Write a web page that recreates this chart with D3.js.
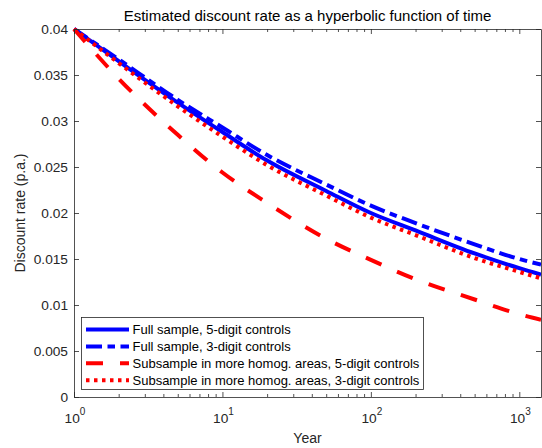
<!DOCTYPE html>
<html>
<head>
<meta charset="utf-8">
<script src="https://cdn.jsdelivr.net/npm/d3@7"></script>
<style>
  html, body { margin: 0; padding: 0; background: #fff; }
  svg { display: block; font-family: "Liberation Sans", Arial, Helvetica, sans-serif; }
</style>
</head>
<body>
<svg id="chart" width="542" height="448"></svg>
<script>
// ---- data ----
const years = [1, 2, 5, 10, 20, 50, 100, 200, 500, 1000, 1400];
const fullSample5 = [0.0400, 0.0365, 0.0320, 0.0288, 0.0257, 0.0224, 0.0200, 0.0181, 0.0156, 0.0140, 0.0133];
const fullSample3 = [0.0400, 0.0367, 0.0323, 0.0293, 0.0263, 0.0231, 0.0208, 0.0189, 0.0166, 0.0150, 0.0144];
const subSample5  = [0.0400, 0.0346, 0.0285, 0.0244, 0.0211, 0.0172, 0.0149, 0.0128, 0.0106, 0.0090, 0.0084];
const subSample3  = [0.0400, 0.0363, 0.0316, 0.0283, 0.0252, 0.0219, 0.0195, 0.0176, 0.0151, 0.0136, 0.0129];
const seriesNames = [
  "Full sample, 5-digit controls",
  "Full sample, 3-digit controls",
  "Subsample in more homog. areas, 5-digit controls",
  "Subsample in more homog. areas, 3-digit controls"
];
const yTickValues = [0, 0.005, 0.01, 0.015, 0.02, 0.025, 0.03, 0.035, 0.04];
const yTickLabels = ["0", "0.005", "0.01", "0.015", "0.02", "0.025", "0.03", "0.035", "0.04"];
const xMajorTicks = [1, 10, 100, 1000];
const xMajorExp = ["0", "1", "2", "3"];
const titleText = "Estimated discount rate as a hyperbolic function of time";
const xLabel = "Year";
const yLabel = "Discount rate (p.a.)";

// ---- layout ----
const L = 74, R = 541, T = 29, B = 397;
const svg = d3.select("#chart");
const x = d3.scaleLog().domain([1, 1400]).range([L, R]);
const y = d3.scaleLinear().domain([0, 0.04]).range([B, T]);
const axisColor = "#262626";

const xMinor = [];
for (let d = 1; d <= 1000; d *= 10) for (let k = 2; k <= 9; k++) { if (d * k <= 1400) xMinor.push(d * k); }

// ---- series ----
const styles = [
  { data: fullSample5, color: "#0000ff", dash: null },
  { data: fullSample3, color: "#0000ff", dash: "16,5.5,7.5,5.5" },
  { data: subSample5,  color: "#ff0000", dash: "17,17" },
  { data: subSample3,  color: "#ff0000", dash: "3.5,4.5" }
];

const line = d3.line().x(d => x(d[0])).y(d => y(d[1])).curve(d3.curveMonotoneX);

svg.append("defs").append("clipPath").attr("id", "clip")
  .append("rect").attr("x", L - 2).attr("y", T - 3).attr("width", R - L + 2).attr("height", B - T + 3);

const gLines = svg.append("g").attr("clip-path", "url(#clip)");
styles.forEach(s => {
  gLines.append("path")
    .datum(years.map((t, i) => [t, s.data[i]]))
    .attr("d", line)
    .attr("fill", "none")
    .attr("stroke", s.color)
    .attr("stroke-width", 4)
    .attr("stroke-dasharray", s.dash)
    .attr("stroke-linecap", "butt");
});

// ---- axes ----
function styleAxis(g) {
  g.selectAll("path.domain").attr("stroke", axisColor).attr("stroke-width", 0.8);
  g.selectAll(".tick line").attr("stroke", axisColor).attr("stroke-width", 0.8);
  g.selectAll("text").attr("fill", axisColor).style("font-size", "13.7px")
    .style("font-family", "'Liberation Sans', Arial, sans-serif");
}

// bottom
svg.append("g").attr("transform", `translate(0,${B})`)
  .call(d3.axisBottom(x).tickValues(xMajorTicks).tickSizeInner(-5).tickSizeOuter(0).tickFormat(""))
  .call(styleAxis);
svg.append("g").attr("transform", `translate(0,${B})`)
  .call(d3.axisBottom(x).tickValues(xMinor).tickSizeInner(-3).tickSizeOuter(0).tickFormat(""))
  .call(g => g.select("path.domain").remove())
  .call(styleAxis);
// top
svg.append("g").attr("transform", `translate(0,${T})`)
  .call(d3.axisTop(x).tickValues(xMajorTicks).tickSizeInner(-5).tickSizeOuter(0).tickFormat(""))
  .call(styleAxis);
svg.append("g").attr("transform", `translate(0,${T})`)
  .call(d3.axisTop(x).tickValues(xMinor).tickSizeInner(-3).tickSizeOuter(0).tickFormat(""))
  .call(g => g.select("path.domain").remove())
  .call(styleAxis);
// left
svg.append("g").attr("transform", `translate(${L},0)`)
  .call(d3.axisLeft(y).tickValues(yTickValues).tickSizeInner(-5).tickSizeOuter(0).tickPadding(6)
    .tickFormat((d, i) => yTickLabels[i]))
  .call(styleAxis);
// right
svg.append("g").attr("transform", `translate(${R},0)`)
  .call(d3.axisRight(y).tickValues(yTickValues).tickSizeInner(-5).tickSizeOuter(0).tickFormat(""))
  .call(styleAxis);

// x tick labels with superscripts
const xl = svg.append("g").attr("fill", axisColor).style("font-size", "13.7px");
xMajorTicks.forEach((t, i) => {
  const txt = xl.append("text").attr("x", x(t) + 1).attr("y", 423).attr("text-anchor", "middle");
  txt.append("tspan").text("10");
  txt.append("tspan").attr("dy", -8).style("font-size", "10px").text(xMajorExp[i]);
});

// labels
svg.append("text").attr("x", (L + R) / 2).attr("y", 20.5).attr("text-anchor", "middle")
  .attr("fill", "#000").style("font-size", "15px").text(titleText);
svg.append("text").attr("x", (L + R) / 2).attr("y", 443).attr("text-anchor", "middle")
  .attr("fill", axisColor).style("font-size", "14px").text(xLabel);
svg.append("text").attr("transform", `translate(25,${(T + B) / 2}) rotate(-90)`).attr("text-anchor", "middle")
  .attr("fill", axisColor).style("font-size", "14px").text(yLabel);

// ---- legend ----
const lg = svg.append("g");
lg.append("rect").attr("x", 81.5).attr("y", 317.5).attr("width", 342).attr("height", 72)
  .attr("fill", "#fff").attr("stroke", axisColor).attr("stroke-width", 0.8);
styles.forEach((s, i) => {
  const cy = 329.5 + i * 16.9;
  lg.append("line").attr("x1", 86).attr("x2", 129).attr("y1", cy).attr("y2", cy)
    .attr("stroke", s.color).attr("stroke-width", 4).attr("stroke-dasharray", s.dash);
  lg.append("text").attr("x", 132.5).attr("y", cy + 4.5).attr("fill", "#000")
    .style("font-size", "13px").text(seriesNames[i]);
});
</script>
</body>
</html>
